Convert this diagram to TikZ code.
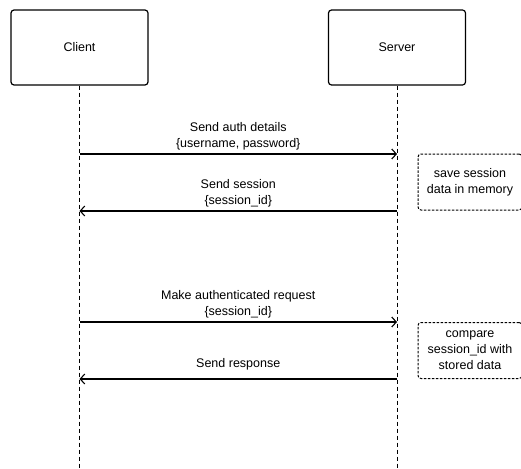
\documentclass[tikz,border=0pt]{standalone}
\usepackage{fontspec}
\setmainfont{Liberation Sans}
\usetikzlibrary{arrows.meta,positioning}

\tikzset{
  actor/.style={draw, line width=1.2pt, rounded corners=3pt,
    minimum width=137pt, minimum height=75pt, font=\fontsize{12.5}{15}\selectfont},
  lifeline/.style={line width=0.6pt, dash pattern=on 4pt off 3pt},
  msg/.style={line width=1.1pt, -{Straight Barb[length=4.5pt,width=10pt]}},
  msglabel/.style={above, align=center, inner sep=3pt,
    font=\fontsize{12.5}{16}\selectfont},
  note/.style={draw, line width=1pt, dash pattern=on 2.5pt off 1.5pt,
    rounded corners=3pt, align=center, minimum width=104pt,
    font=\fontsize{12.5}{16}\selectfont}
}

\begin{document}
\begin{tikzpicture}[x=1pt, y=-1pt]

\def\yend{468}; % bottom of lifelines
\def\ya{154}; % auth details
\def\yb{211}; % session
\def\yc{322}; % authenticated request
\def\yd{379}; % response

\useasboundingbox (0,0) rectangle (521,468);

\node[actor] (client) at (79.5,47.5) {Client};
\node[actor] (server) at (397,47.5) {Server};

\coordinate (clientend) at (client.center |- 0,\yend);
\coordinate (serverend) at (server.center |- 0,\yend);

\draw[lifeline] (client) -- (clientend);
\draw[lifeline] (server) -- (serverend);

% messages
\coordinate (c1) at (client.center |- 0,\ya);
\coordinate (s1) at (server.center |- 0,\ya);
\draw[msg] (c1) -- node[msglabel] {Send auth details\\\{username, password\}} (s1);

\coordinate (c2) at (client.center |- 0,\yb);
\coordinate (s2) at (server.center |- 0,\yb);
\draw[msg] (s2) -- node[msglabel] {Send session\\\{session\_id\}} (c2);

\coordinate (c3) at (client.center |- 0,\yc);
\coordinate (s3) at (server.center |- 0,\yc);
\draw[msg] (c3) -- node[msglabel] {Make authenticated request\\\{session\_id\}} (s3);

\coordinate (c4) at (client.center |- 0,\yd);
\coordinate (s4) at (server.center |- 0,\yd);
\draw[msg] (s4) -- node[msglabel, inner sep=8pt] {Send response} (c4);

% notes
\node[note, minimum height=56pt] (savenote) at (470,182) {save session\\data in memory};
\node[note, minimum height=56pt] (comparenote) at (470,350.5) {compare\\session\_id with\\stored data};

\end{tikzpicture}
\end{document}
